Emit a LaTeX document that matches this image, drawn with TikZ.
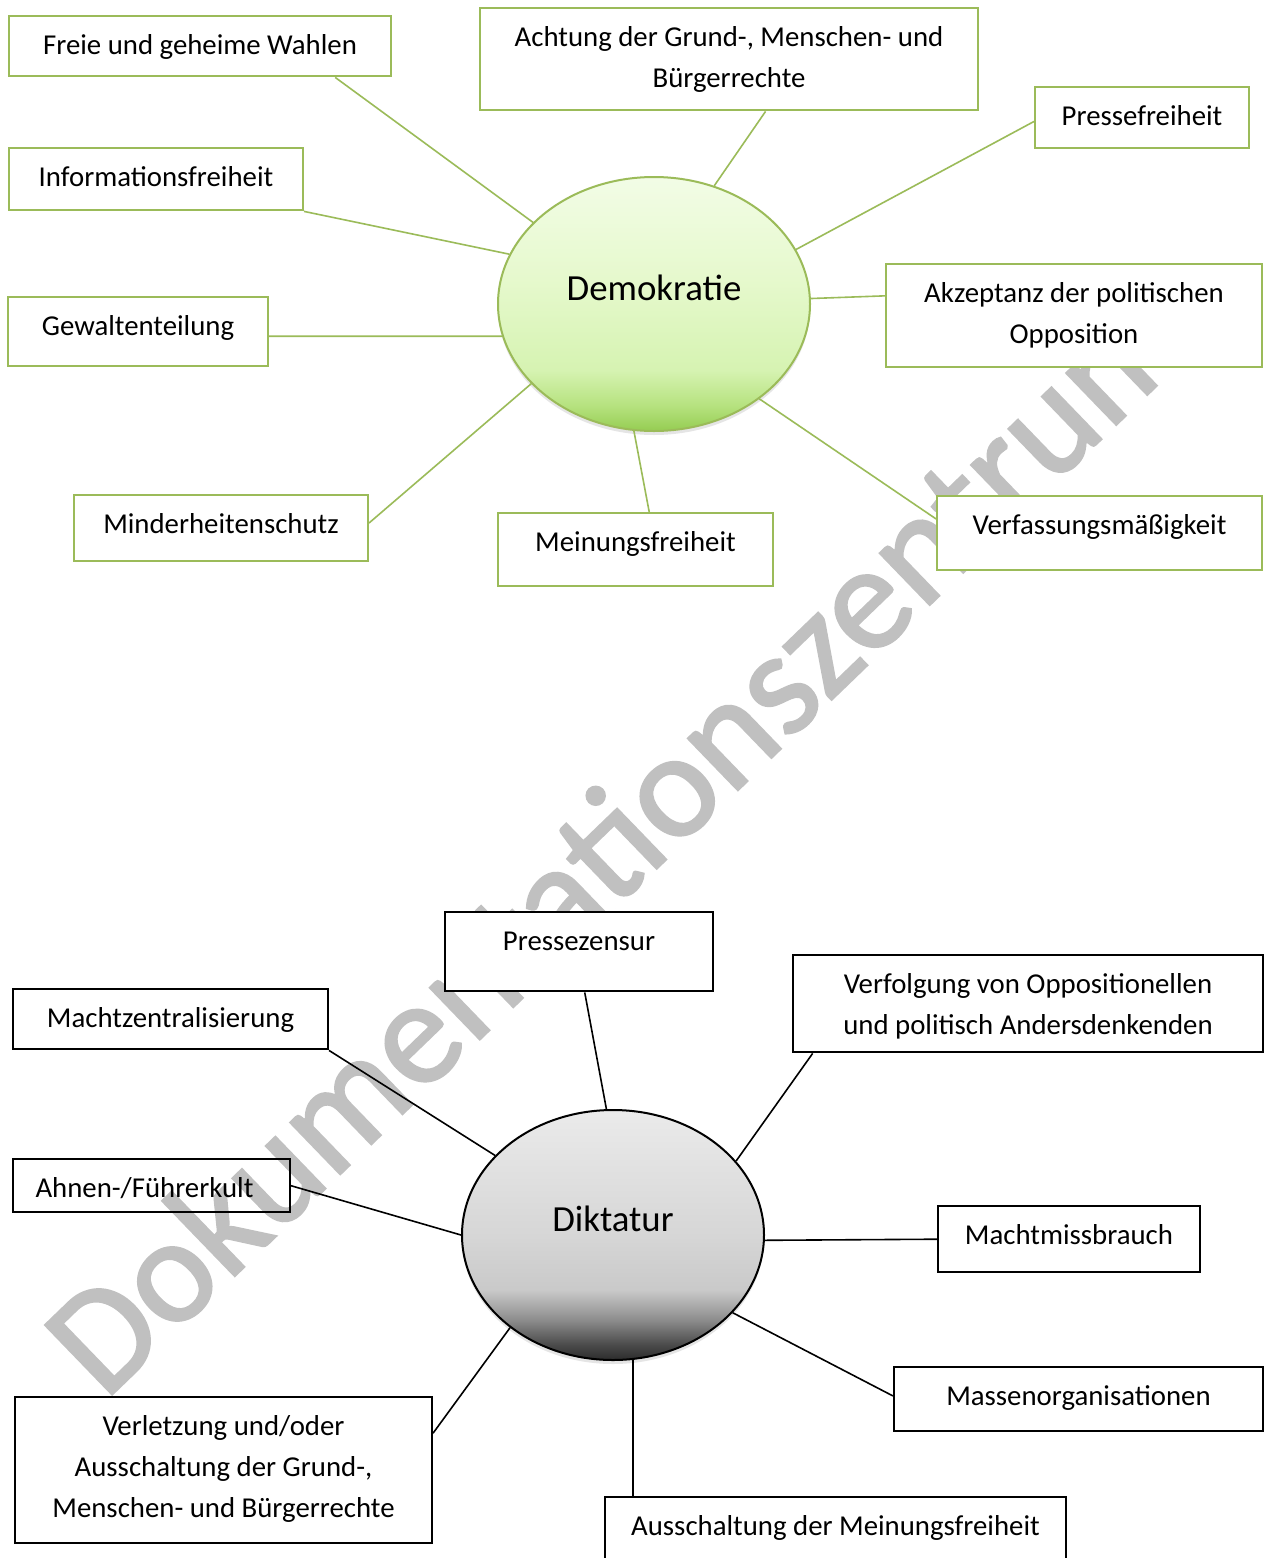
\documentclass[tikz,border=0pt]{standalone}
\usepackage{fontspec}
\setmainfont{Carlito}
\font\wmfont="Carlito:embolden=1.6" at 75pt
\usetikzlibrary{shapes.geometric, shadows}
\definecolor{grn}{HTML}{9BBB59}
\definecolor{wmgray}{HTML}{C0C0C0}
\definecolor{demoTop}{HTML}{F2FCE6}
\definecolor{demoMid}{HTML}{E6F9CD}
\definecolor{demoA}{HTML}{D6F3B2}
\definecolor{demoB}{HTML}{B6E27F}
\definecolor{demoC}{HTML}{95CD52}
\pgfdeclareverticalshading{demoshade}{100bp}{color(0bp)=(demoC); color(25bp)=(demoC); color(30bp)=(demoB); color(37bp)=(demoA); color(55bp)=(demoMid); color(75bp)=(demoTop); color(100bp)=(demoTop)}
\pgfdeclareverticalshading{diktshade}{100bp}{color(0bp)=(black!83); color(25bp)=(black!83); color(28bp)=(black!71); color(33bp)=(black!45); color(39bp)=(black!21); color(50bp)=(black!16); color(75bp)=(black!8); color(100bp)=(black!8)}

\begin{document}
\begin{tikzpicture}[x=0.5pt, y=-0.5pt]
		\tikzstyle{greenbox} = [draw=grn, line width=1pt, fill=white, inner sep=0, anchor=north, text height=19.2pt, align=center, font=\fontsize{14.4}{20.5}\selectfont]
		\tikzstyle{blackbox} = [greenbox, draw=black]
		\tikzstyle{twolines} = [text height=39.7pt]
		\tikzstyle{greenline} = [draw=grn, line width=0.8pt]
		\tikzstyle{blackline} = [draw=black, line width=0.8pt]
		\tikzstyle{blob} = [shape=ellipse, draw, line width=1pt, inner sep=0, shade, text height=12pt, text depth=15.2pt, font=\fontsize{18.4}{22}\selectfont, drop shadow={opacity=0.2, shadow xshift=0pt, shadow yshift=-2pt}]
		\tikzstyle{watermark} = [inner sep=0, rotate=44, text=wmgray, font=\wmfont]
		\useasboundingbox (0,0) rectangle (1266,1558);
		\clip (0,0) rectangle (1266,1558);
		\fill [white] (0,0) rectangle (1266,1558);
		\node [watermark] (v19) at (614,838) {Dokumentationszentrum};
		% Demokratie
		\node [blob, draw=grn, shading=demoshade, minimum width=156pt, minimum height=127pt] (v0) at (654,304) {Demokratie};
		\node [greenbox, minimum width=191pt, text depth=11pt] (v1) at (200,15) {Freie und geheime Wahlen};
		\node [greenbox, twolines, minimum width=249pt, text depth=11.5pt] (v2) at (729,7) {Achtung der Grund-, Menschen- und\\Bürgerrechte};
		\node [greenbox, minimum width=107pt, text depth=11.5pt] (v3) at (1142,86) {Pressefreiheit};
		\node [greenbox, minimum width=147pt, text depth=12pt] (v4) at (156,147) {Informationsfreiheit};
		\node [greenbox, minimum width=130pt, text depth=15.5pt] (v5) at (138,296) {Gewaltenteilung};
		\node [greenbox, twolines, minimum width=188pt, text depth=12pt] (v6) at (1074,263) {Akzeptanz der politischen\\Opposition};
		\node [greenbox, minimum width=147pt, text depth=14pt] (v7) at (221,494) {Minderheitenschutz};
		\node [greenbox, minimum width=137.5pt, text depth=17.5pt] (v8) at (635.5,512) {Meinungsfreiheit};
		\node [greenbox, minimum width=162.5pt, text depth=18pt] (v9) at (1099.5,495) {Verfassungsmäßigkeit};
		\draw [greenline] (v1.-13.9) edge (v0.146.9);
		\draw [greenline] (v2.-55.8) edge (v0.63.2);
		\draw [greenline] (v3.182.1) edge (v0.21.8);
		\draw [greenline] (v4.south east) edge (v0.161.8);
		\draw [greenline] (v5.-2.6) edge (v0.192.3);
		\draw [greenline] (v6.174.5) edge (v0.2.6);
		\draw [greenline] (v7.2.9) edge (v0.213.8);
		\draw [greenline] (v8.70) edge (v0.261.6);
		\draw [greenline] (v9.175.6) edge (v0.318.6);
		% Diktatur
		\node [blob, shading=diktshade, minimum width=151pt, minimum height=125pt] (v10) at (613,1235) {Diktatur};
		\node [blackbox, minimum width=134pt, text depth=20.5pt] (v11) at (579,911) {Pressezensur};
		\node [blackbox, minimum width=157.5pt, text depth=11pt] (v12) at (170.5,988) {Machtzentralisierung};
		\node [blackbox, twolines, minimum width=235pt, text depth=9pt] (v13) at (1028,954) {Verfolgung von Oppositionellen\\und politisch Andersdenkenden};
		\node [blackbox, fill=none, minimum width=138.5pt, text depth=7.5pt] (v14) at (151.5,1158) {Ahnen-/Führerkult\hspace{7pt}};
		\node [blackbox, minimum width=131pt, text depth=14pt] (v15) at (1069,1205) {Machtmissbrauch};
		\node [blackbox, minimum width=184.5pt, text depth=13pt] (v16) at (1078.5,1366) {Massenorganisationen};
		\node [blackbox, text height=60.2pt, minimum width=208.5pt, text depth=13pt] (v17) at (223.5,1396) {Verletzung und/oder\\Ausschaltung der Grund-,\\Menschen- und Bürgerrechte};
		\node [blackbox, minimum width=230.5pt, text depth=15.5pt] (v18) at (835.5,1496) {Ausschaltung der Meinungsfreiheit};
		\draw [blackline] (v11.-82.9) edge (v10.93.7);
		\draw [blackline] (v12.south east) edge (v10.146.4);
		\draw [blackline] (v13.193.4) edge (v10.31.2);
		\draw [blackline] (v14.-0.8) edge (v10.180.8);
		\draw [blackline] (v15.180.2) edge (v10.358.5);
		\draw [blackline] (v16.179.5) edge (v10.327.4);
		\draw [blackline] (v17.10.7) edge (v10.222.4);
		\draw [blackline] (v10.279.5) edge (v10.279.5 |- v18.north);
\end{tikzpicture}
\end{document}
